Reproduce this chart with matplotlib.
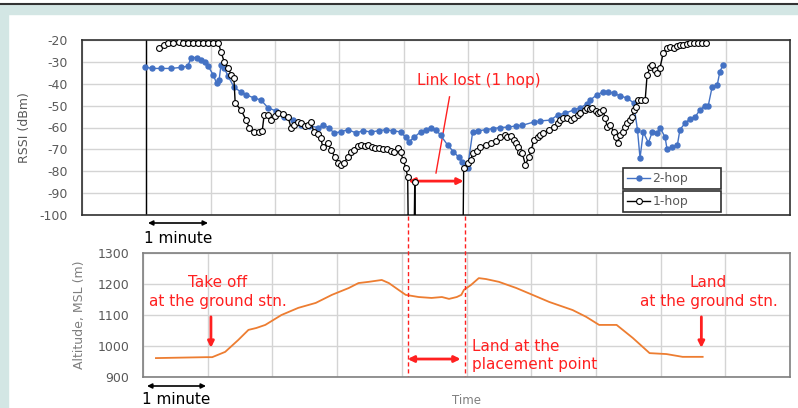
import matplotlib.pyplot as plt
import matplotlib.transforms as mtransforms
from matplotlib.patches import Rectangle, FancyArrowPatch
from matplotlib.lines import Line2D

plt.rcParams['font.family'] = ['DejaVu Sans']
plt.rcParams['axes.unicode_minus'] = False

# time in minutes, RSSI in dBm
t_2hop = [0.98, 1.08, 1.23, 1.39, 1.54, 1.64, 1.70, 1.78, 1.85, 1.91, 1.96, 2.04, 2.09, 2.13,
          2.16, 2.21, 2.27, 2.36, 2.47, 2.55, 2.67, 2.78, 2.89, 3.02, 3.14, 3.28, 3.40, 3.53,
          3.67, 3.74, 3.84, 3.91, 4.02, 4.13, 4.26, 4.36, 4.49, 4.61, 4.72, 4.83, 4.95, 5.03,
          5.08, 5.16, 5.26, 5.34, 5.42, 5.50, 5.57, 5.68, 5.77, 5.85, 5.91, 5.99, 6.07, 6.16,
          6.27, 6.38, 6.50, 6.62, 6.74, 6.84, 7.02, 7.12, 7.28, 7.39, 7.51, 7.64, 7.74, 7.84,
          7.90, 8.00, 8.10, 8.18, 8.26, 8.36, 8.47, 8.57, 8.63, 8.67, 8.72, 8.80, 8.86, 8.94,
          8.98, 9.06, 9.09, 9.17, 9.25, 9.29, 9.37, 9.45, 9.53, 9.60, 9.68, 9.73, 9.79, 9.87,
          9.91, 9.96]
rssi_2hop = [-32.3, -33, -33, -33, -32.5, -32, -28, -28, -29, -30, -32, -36, -39.7, -38.3,
             -31.4, -33, -36.5, -41.5, -43.8, -45, -46.5, -47.4, -51, -52.5, -55, -56.5, -59, -59.3,
             -60, -59, -60, -62.5, -62, -61, -62.5, -61.5, -62, -61.5, -61, -61.5, -62, -64.5,
             -66.5, -64.5, -62, -61, -60, -61, -63.5, -68, -71, -73.5, -75.7, -78.5, -62, -61.5,
             -61, -60.5, -60, -59.8, -59.3, -59, -57.5, -57, -56.6, -54.3, -53.4, -52, -51, -49.3,
             -47.4, -45, -43.7, -43.7, -44.3, -45.6, -46.5, -48.8, -61, -74, -62, -67, -62, -62.5,
             -60, -64.5, -70, -69, -68, -61, -58, -56, -55, -52, -50, -50, -41.5, -40.5,
             -34.5, -31.4]

t_1hop = [1.20, 1.28, 1.34, 1.42, 1.50, 1.57, 1.65, 1.73, 1.81, 1.88, 1.96, 2.04, 2.12, 2.16,
          2.21, 2.27, 2.32, 2.36, 2.38, 2.47, 2.55, 2.60, 2.67, 2.75, 2.80, 2.83, 2.89, 2.94,
          3.00, 3.05, 3.12, 3.20, 3.25, 3.29, 3.36, 3.40, 3.47, 3.51, 3.56, 3.60, 3.67, 3.71,
          3.74, 3.82, 3.87, 3.93, 3.98, 4.02, 4.07, 4.13, 4.18, 4.23, 4.29, 4.33, 4.40, 4.44,
          4.50, 4.55, 4.61, 4.67, 4.74, 4.80, 4.84, 4.91, 4.95, 4.99, 5.03, 5.06, 5.07, 5.16,
          5.17, 5.18, 5.92, 5.93, 5.99, 6.04, 6.07, 6.13, 6.19, 6.27, 6.35, 6.43, 6.50, 6.57,
          6.61, 6.66, 6.71, 6.75, 6.78, 6.81, 6.84, 6.89, 6.94, 6.98, 7.02, 7.08, 7.12, 7.17,
          7.25, 7.33, 7.39, 7.43, 7.48, 7.54, 7.59, 7.64, 7.70, 7.74, 7.81, 7.85, 7.90, 7.93,
          7.98, 8.01, 8.05, 8.09, 8.13, 8.16, 8.21, 8.26, 8.29, 8.32, 8.36, 8.40, 8.44, 8.47,
          8.52, 8.55, 8.57, 8.60, 8.64, 8.69, 8.75, 8.78, 8.83, 8.86, 8.91, 8.94, 8.98, 9.03,
          9.09, 9.14, 9.19, 9.25, 9.29, 9.34, 9.40, 9.45, 9.51, 9.57, 9.64, 9.70]
rssi_1hop = [-23.7, -22.3, -21.4, -21.4, -21, -21.4, -21.4, -21.4, -21.4, -21.4, -21.4, -21.4, -21.4, -25.5,
             -30, -32.8, -36, -37.4, -48.8, -52, -56.6, -60.2, -62, -62, -61.6, -54.3, -54.3, -56.6,
             -54.7, -53.4, -53.8, -55.2, -60.2, -58.9, -57.5, -58, -59.3, -58.9, -57.5, -62, -63, -64.8,
             -68.9, -67, -70.3, -73.5, -76.2, -77.1, -76.2, -73.5, -71.2, -70.3, -68.5, -68, -68.5, -68,
             -68.9, -69.4, -69.4, -69.8, -69.8, -70.7, -71.2, -69.4, -71.2, -74.8, -78.5, -82.6, -110, -110,
             -85, -110, -110, -78.5, -76.2, -74.8, -71.7, -70.7, -68.9, -68, -67.1, -66.2, -64.3, -63.4,
             -64.3, -63.9, -65.7, -67.1, -68.9, -71.2, -71.7, -77.1, -73.5, -70.3, -65.7, -64.3, -63.4, -62.5,
             -61.1, -59.8, -58, -56.6, -55.6, -55.6, -56.6, -55.6, -54.3, -53.4, -52, -51.1, -51.6, -51.1,
             -52.5, -53.4, -52.9, -52, -55.6, -59.8, -58.9, -62, -64.3, -67.1, -63.4, -62, -59.8, -58,
             -56.6, -55.2, -52, -50.6, -47.4, -47.4, -47.4, -36, -32.3, -31.4, -33.7, -35.1, -32.8, -25.9,
             -23.7, -23.2, -23.7, -22.7, -22.3, -22.3, -21.8, -21.4, -21.4, -21.4, -21.4, -21.4]

# time in minutes, altitude in m
t_alt = [1.20, 1.98, 2.07, 2.27, 2.47, 2.63, 2.75, 2.89, 3.14, 3.40, 3.67, 3.92, 4.18, 4.33,
         4.49, 4.69, 4.80, 4.95, 5.06, 5.26, 5.46, 5.62, 5.73, 5.85, 5.92, 5.96, 6.07, 6.19,
         6.30, 6.50, 6.77, 7.02, 7.28, 7.64, 7.85, 8.05, 8.32, 8.57, 8.83, 9.09, 9.34, 9.65]
alt = [961, 964, 964, 981, 1019, 1052, 1058, 1068, 1100, 1123, 1139, 1165, 1187, 1203,
       1207, 1213, 1203, 1181, 1165, 1158, 1155, 1158, 1152, 1158, 1165, 1181, 1197, 1219,
       1216, 1207, 1187, 1165, 1142, 1116, 1094, 1068, 1068, 1026, 977, 974, 965, 965]

W, H = 798, 408
fig = plt.figure(figsize=(W / 100, H / 100), dpi=100)
fig.patch.set_facecolor('white')

def fx(px):
    return px / W

def fy(py):
    return 1 - py / H

# slide frame
teal = '#d3e6e4'
fig.add_artist(Rectangle((0, 0), fx(8), fy(4), transform=fig.transFigure, color=teal, zorder=0))
fig.add_artist(Rectangle((0, fy(14)), 1, fy(4) - fy(14), transform=fig.transFigure, color=teal, zorder=0))
fig.add_artist(Line2D([0, 1], [fy(3.5), fy(3.5)], transform=fig.transFigure, color='#333333', lw=1.5))

gray = '#595959'
red = '#ff2020'
gridc = '#d4d4d4'

ax1 = fig.add_axes([fx(82), fy(215), fx(790) - fx(82), fy(40) - fy(215)])
ax2 = fig.add_axes([fx(143), fy(377), fx(790) - fx(143), fy(253) - fy(377)])

# --- RSSI panel
ax1.set_xlim(0, 11)
ax1.set_ylim(-100, -20)
ax1.set_xticks(range(0, 12))
ax1.set_yticks(range(-100, -19, 10))
ax1.grid(True, color=gridc, lw=1, zorder=1)
ax1.set_axisbelow(True)
ax1.plot(t_2hop, rssi_2hop, color='#4472c4', lw=1, marker='o', ms=3.6, mec='#4472c4', label='2-hop', zorder=3)
ax1.plot(t_1hop, rssi_1hop, color='black', lw=1, marker='o', ms=4.2, mfc='white', mec='black',
         mew=0.8, label='1-hop', zorder=4)
ax1.plot([1, 1], [-100, -20], color='black', lw=1, zorder=2)
ax1.tick_params(length=0, labelbottom=False, labelsize=9, labelcolor=gray, pad=10)
for s in ax1.spines.values():
    s.set_color('#303030')
    s.set_linewidth(1.2)
ax1.set_ylabel('RSSI (dBm)', fontsize=9, color=gray, labelpad=6)

# two stacked legend boxes, Excel style
h1, l1 = ax1.get_legend_handles_labels()
leg_kw = dict(loc='center', mode='expand', fontsize=9, labelcolor=gray, fancybox=False,
              edgecolor='#303030', framealpha=1, handlelength=1.8, borderpad=0.35,
              handletextpad=0.2, borderaxespad=0)
x0, x1 = (623 - 82) / 708, (721 - 82) / 708
legA = ax1.legend([h1[0]], [l1[0]], bbox_to_anchor=(x0, 0.143, x1 - x0, 0.131), **leg_kw)
legA.get_frame().set_linewidth(1.2)
ax1.add_artist(legA)
legB = ax1.legend([h1[1]], [l1[1]], bbox_to_anchor=(x0, 0.011, x1 - x0, 0.131), **leg_kw)
legB.get_frame().set_linewidth(1.2)

ax1.text(6.16, -38.7, 'Link lost (1 hop)', color=red, fontsize=11, ha='center', va='center')
ax1.plot([5.71, 5.50], [-46, -80.8], color=red, lw=1)
ax1.annotate('', xy=(5.07, -84.5), xytext=(5.93, -84.5),
             arrowprops=dict(arrowstyle='<|-|>', color=red, lw=2, mutation_scale=9, shrinkA=0, shrinkB=0))

# --- altitude panel
ax2.set_xlim(1, 11)
ax2.set_ylim(900, 1300)
ax2.set_xticks(range(1, 12))
ax2.set_yticks(range(900, 1301, 100))
ax2.grid(True, color=gridc, lw=1, zorder=1)
ax2.set_axisbelow(True)
ax2.plot(t_alt, alt, color='#ed7d31', lw=1.3)
ax2.tick_params(length=0, labelbottom=False, labelsize=9, labelcolor=gray, pad=10)
for s in ax2.spines.values():
    s.set_color('#7f7f7f')
    s.set_linewidth(1.2)
ax2.set_ylabel('Altitude, MSL (m)', fontsize=9, color='#7f7f7f', labelpad=8)

ax2.text(2.15, 1174, 'Take off\nat the ground stn.', color=red, fontsize=11, ha='center',
         va='center', linespacing=1.3)
ax2.annotate('', xy=(2.05, 994), xytext=(2.05, 1094),
             arrowprops=dict(arrowstyle='-|>', color=red, lw=2, mutation_scale=9, shrinkA=0, shrinkB=0))
ax2.text(9.74, 1174, 'Land\nat the ground stn.', color=red, fontsize=11, ha='center',
         va='center', linespacing=1.3)
ax2.annotate('', xy=(9.63, 994), xytext=(9.63, 1094),
             arrowprops=dict(arrowstyle='-|>', color=red, lw=2, mutation_scale=9, shrinkA=0, shrinkB=0))
ax2.text(6.09, 969, 'Land at the\nplacement point', color=red, fontsize=11, ha='left',
         va='center', linespacing=1.3)
ax2.annotate('', xy=(5.09, 958), xytext=(5.91, 958),
             arrowprops=dict(arrowstyle='<|-|>', color=red, lw=2, mutation_scale=9, shrinkA=0, shrinkB=0))

# dashed markers across both panels (x in RSSI data units, y in figure units)
blend = mtransforms.blended_transform_factory(ax1.transData, fig.transFigure)
for tv in [5.07, 5.95]:
    fig.add_artist(Line2D([tv, tv], [fy(216), fy(376)], transform=blend, color=red, lw=1,
                          ls=(0, (3, 2))))

# 1 minute scale arrows
for ya, yt, xa, xb in [(223, 238, 148, 208), (386, 400, 147, 206)]:
    fig.add_artist(FancyArrowPatch((fx(xa), fy(ya)), (fx(xb), fy(ya)), transform=fig.transFigure,
                                   arrowstyle='<|-|>', color='black', lw=1.2, mutation_scale=7,
                                   shrinkA=0, shrinkB=0))
    fig.text(fx((xa + xb) / 2), fy(yt), '1 minute', fontsize=11, ha='center', va='center', color='black')

fig.text(fx(467), fy(401), 'Time', fontsize=8.5, ha='center', va='center', color='#7f7f7f')

fig.savefig('out.png', dpi=100)
